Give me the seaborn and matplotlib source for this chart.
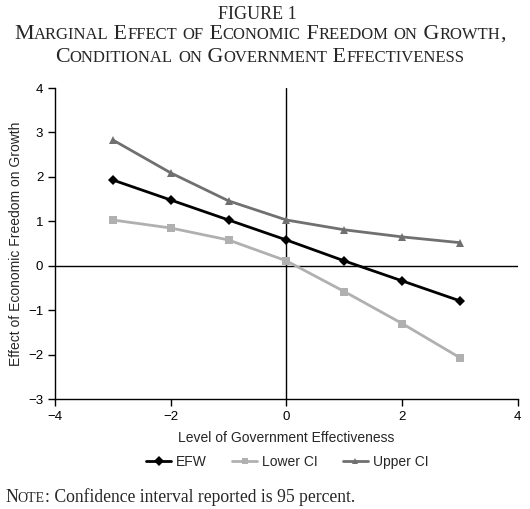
# Marginal effect of economic freedom on growth, conditional on government effectiveness.
import seaborn as sns
import matplotlib.pyplot as plt
import pandas as pd

# data
gov_eff = [-3, -2, -1, 0, 1, 2, 3]
efw = [1.93, 1.48, 1.03, 0.58, 0.11, -0.34, -0.79]
lower_ci = [1.03, 0.85, 0.58, 0.11, -0.58, -1.30, -2.07]
upper_ci = [2.83, 2.09, 1.46, 1.03, 0.81, 0.65, 0.52]
series_names = ['EFW', 'Lower CI', 'Upper CI']

df = pd.concat([
    pd.DataFrame({'x': gov_eff, 'y': vals, 'series': name})
    for name, vals in zip(series_names, [efw, lower_ci, upper_ci])
])

sns.set_style('ticks')
plt.rcParams['font.family'] = ['Liberation Sans', 'DejaVu Sans']

fig = plt.figure(figsize=(5.3, 5.09), dpi=100)
ax = fig.add_axes([0.104, 0.216, 0.873, 0.611])

sns.lineplot(data=df, x='x', y='y', hue='series', style='series',
             palette={'EFW': '#000000', 'Lower CI': '#b0b0b0', 'Upper CI': '#707070'},
             markers={'EFW': 'D', 'Lower CI': 's', 'Upper CI': '^'},
             dashes=False, markersize=5.5, markeredgewidth=0, linewidth=2,
             ax=ax, legend=True)

ax.axhline(0, color='black', lw=1, zorder=0)
ax.axvline(0, color='black', lw=1, zorder=0)
ax.set_xlim(-4, 4)
ax.set_ylim(-3, 4)
ax.set_xticks([-4, -2, 0, 2, 4])
ax.set_yticks(range(-3, 5))
ax.set_xticklabels(['\u22124', '\u22122', '0', '2', '4'])
ax.set_yticklabels(['\u22123', '\u22122', '\u22121', '0', '1', '2', '3', '4'])
ax.tick_params(labelsize=9.5, length=5, width=1, colors='black')
for s in ['top', 'right']:
    ax.spines[s].set_visible(False)
for s in ['left', 'bottom']:
    ax.spines[s].set_linewidth(1)
    ax.spines[s].set_color('black')
ax.set_xlabel('Level of Government Effectiveness', fontsize=10, labelpad=6)
ax.set_ylabel('Effect of Economic Freedom on Growth', fontsize=10, labelpad=4)

handles, labels = ax.get_legend_handles_labels()
ax.get_legend().remove()
fig.legend(handles, labels, loc='center', bbox_to_anchor=(0.542, 0.092), ncol=3,
           frameon=False, fontsize=10, handlelength=1.8, columnspacing=1.8,
           handletextpad=0.35, markerscale=0.9)


def small_caps(x, y, text, big, small, ha='center'):
    # fake small caps: lowercase letters drawn as smaller capitals
    runs = []
    for ch in text:
        low = ch.islower()
        if runs and runs[-1][1] == low:
            runs[-1][0] += ch
        else:
            runs.append([ch, low])
    r = fig.canvas.get_renderer()
    W = fig.bbox.width
    items, total = [], 0
    for s, low in runs:
        t = fig.text(0, y, s.upper(), fontsize=small if low else big,
                     family='Liberation Serif', va='baseline')
        w = t.get_window_extent(r).width / W
        items.append((t, w))
        total += w
    start = x - total / 2 if ha == 'center' else x
    for t, w in items:
        t.set_x(start)
        start += w
    return start


fig.text(0.485, 1 - 19 / 509, 'FIGURE 1', fontsize=13, family='Liberation Serif',
         ha='center', va='baseline')
small_caps(0.49, 1 - 39 / 509, 'Marginal Effect of Economic Freedom on Growth,', 15.8, 12)
small_caps(0.49, 1 - 62 / 509, 'Conditional on Government Effectiveness', 15.8, 12)

end = small_caps(5 / 530, 1 - 502 / 509, 'Note:', 12.7, 10, ha='left')
fig.text(end, 1 - 502 / 509, ' Confidence interval reported is 95 percent.',
         fontsize=12.7, family='Liberation Serif', va='baseline')

fig.savefig('out.png', dpi=100)
